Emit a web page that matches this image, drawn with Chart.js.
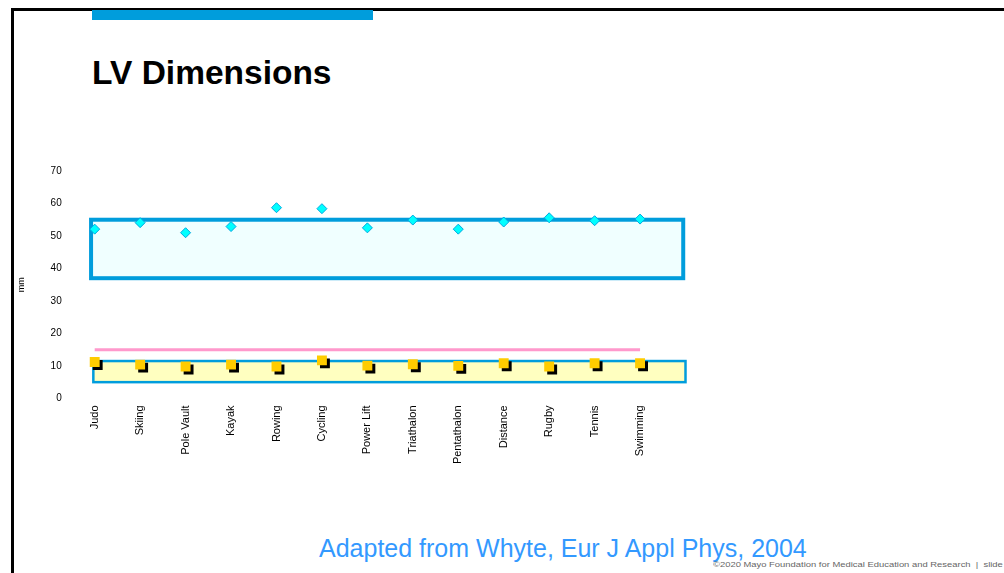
<!DOCTYPE html>
<html>
<head>
<meta charset="utf-8">
<script src="https://cdn.jsdelivr.net/npm/chart.js@4.4.1/dist/chart.umd.min.js"></script>
<style>
  html, body { margin: 0; padding: 0; background: #fff; overflow: hidden; }
  body { width: 1004px; height: 573px; position: relative; font-family: "Liberation Sans", Arial, sans-serif; }
  .frame-top { position: absolute; left: 11px; top: 8px; width: 993px; height: 3px; background: #000; }
  .frame-left { position: absolute; left: 11px; top: 8px; width: 3px; height: 565px; background: #000; }
  .accent { position: absolute; left: 92px; top: 10px; width: 281px; height: 10px; background: #009ddc; }
  h1 { position: absolute; left: 92px; top: 54px; margin: 0; font-size: 33.5px; font-weight: bold; color: #000; }
  .source { position: absolute; left: 319px; top: 534px; font-size: 25px; color: #3399ff; white-space: nowrap; }
  .copy { position: absolute; left: 713px; top: 560px; font-size: 7.5px; color: #666; white-space: nowrap;
          transform: scaleX(1.255); transform-origin: left top; }
  #wrap { position: absolute; left: 0; top: 150px; width: 720px; height: 330px; }
</style>
</head>
<body>
<div class="frame-top"></div>
<div class="frame-left"></div>
<div class="accent"></div>
<h1>LV Dimensions</h1>
<div id="wrap"><canvas id="lvChart"></canvas></div>
<div class="source">Adapted from Whyte, Eur J Appl Phys, 2004</div>
<div class="copy">©2020 Mayo Foundation for Medical Education and Research &nbsp;|&nbsp; slide</div>
<script>
const sports = ['Judo', 'Skiing', 'Pole Vault', 'Kayak', 'Rowing', 'Cycling', 'Power Lift',
  'Triathalon', 'Pentathalon', 'Distance', 'Rugby', 'Tennis', 'Swimming'];
const lvDiameter = [52.1, 54.1, 51.0, 52.9, 58.7, 58.4, 52.5, 54.9, 52.1, 54.3, 55.6, 54.7, 55.2];
const wallThickness = [11.2, 10.4, 9.8, 10.4, 9.8, 11.7, 10.1, 10.5, 10.0, 10.8, 9.8, 10.8, 10.8];
const wallLimit = [15, 15, 15, 15, 15, 15, 15, 15, 15, 15, 15, 15, 15];
const lvNormalRange = [37, 55];
const wallNormalRange = [5, 11.5];
const yTicks = [0, 10, 20, 30, 40, 50, 60, 70];

// shaded normal ranges drawn behind the points
const rangeBoxes = {
  id: 'rangeBoxes',
  beforeDatasetsDraw(chart, args, opts) {
    const ctx = chart.ctx, x = chart.scales.x, y = chart.scales.y;
    opts.boxes.forEach(b => {
      const x0 = x.getPixelForValue(b.from), x1 = x.getPixelForValue(b.to);
      const y0 = y.getPixelForValue(b.range[1]), y1 = y.getPixelForValue(b.range[0]);
      ctx.save();
      ctx.fillStyle = b.fill;
      ctx.fillRect(x0, y0, x1 - x0, y1 - y0);
      ctx.strokeStyle = b.border;
      ctx.lineWidth = b.width;
      ctx.strokeRect(x0, y0, x1 - x0, y1 - y0);
      ctx.restore();
    });
  }
};

// hard black drop shadow on the square markers
const dropShadow = {
  id: 'dropShadow',
  beforeDatasetDraw(chart, args) {
    if (chart.data.datasets[args.index].shadow) {
      const ctx = chart.ctx;
      ctx.save();
      ctx.shadowColor = '#000';
      ctx.shadowOffsetX = 3;
      ctx.shadowOffsetY = 3;
      ctx.shadowBlur = 0;
    }
  },
  afterDatasetDraw(chart, args) {
    if (chart.data.datasets[args.index].shadow) chart.ctx.restore();
  }
};

new Chart(document.getElementById('lvChart'), {
  type: 'line',
  data: {
    labels: sports.concat(['']),
    datasets: [
      {
        data: wallLimit,
        borderColor: '#ff99cc',
        borderWidth: 3,
        pointRadius: 0,
        fill: false
      },
      {
        data: lvDiameter,
        showLine: false,
        pointStyle: 'rectRot',
        pointRadius: 5,
        pointBackgroundColor: '#00ffff',
        pointBorderColor: '#00a8e0',
        pointBorderWidth: 1
      },
      {
        data: wallThickness,
        showLine: false,
        shadow: true,
        pointStyle: 'rect',
        pointRadius: 7,
        pointBackgroundColor: '#ffcc00',
        pointBorderColor: '#ffcc00',
        pointBorderWidth: 0
      }
    ]
  },
  options: {
    responsive: true,
    maintainAspectRatio: false,
    animation: false,
    layout: { autoPadding: false, padding: { top: 21, right: 34.5, left: 0, bottom: 0 } },
    plugins: {
      legend: { display: false },
      tooltip: { enabled: false },
      rangeBoxes: {
        boxes: [
          { from: -0.08, to: 12.95, range: lvNormalRange, fill: '#f0ffff', border: '#009ddc', width: 4 },
          { from: -0.03, to: 13, range: wallNormalRange, fill: '#ffffc0', border: '#009ddc', width: 2.5 }
        ]
      }
    },
    scales: {
      x: {
        offset: false,
        grid: { display: false, tickLength: 0 },
        border: { display: false },
        ticks: {
          autoSkip: false,
          minRotation: 90,
          maxRotation: 90,
          padding: 7,
          color: '#000',
          font: { family: 'Liberation Sans', size: 11 }
        },
        afterFit(scale) { scale.height = 81.6; }
      },
      y: {
        min: 0,
        max: 70,
        afterBuildTicks(scale) { scale.ticks = yTicks.map(v => ({ value: v })); },
        grid: { display: false },
        border: { display: false },
        ticks: {
          padding: 25,
          color: '#000',
          font: { family: 'Liberation Sans', size: 10 }
        },
        title: {
          display: true,
          text: 'mm',
          color: '#000',
          padding: { top: 16, bottom: 0 },
          font: { family: 'Liberation Sans', size: 9 }
        },
        afterFit(scale) {
          scale.width = 94.7;
          scale.paddingTop = 0;
          scale.paddingBottom = 0;
        }
      }
    }
  },
  plugins: [rangeBoxes, dropShadow]
});
</script>
</body>
</html>
